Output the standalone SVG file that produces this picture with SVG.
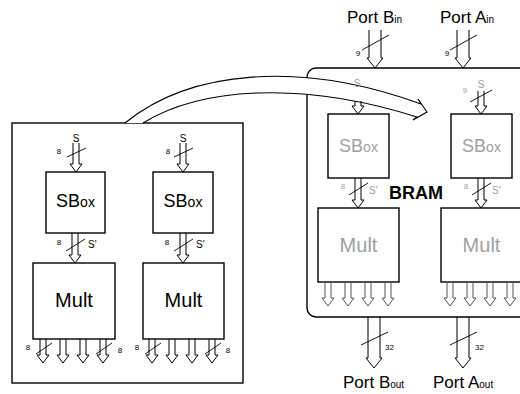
<svg xmlns="http://www.w3.org/2000/svg" width="520" height="394" viewBox="0 0 520 394">
<style>
.box{fill:#fff;stroke:#000;stroke-width:1.4}
.arr{fill:none;stroke:#000;stroke-width:1}
.garr{fill:none;stroke:#555;stroke-width:1}
.sl{fill:none;stroke:#000;stroke-width:0.9}
text{font-family:"Liberation Sans",Arial,sans-serif;fill:#000}
.lab{font-size:20px;text-anchor:middle}
.sb{font-size:18px;text-anchor:middle}
.g{fill:#a0a0a0}
.sm{font-size:10px}
.tiny{font-size:8px}
.port{font-size:17px}
.sub{font-size:10px}
</style>
<rect width="520" height="394" fill="#fff"/>
<g id="left-box">
<rect class="box" x="12" y="123" width="231" height="260"/>
</g>
<g id="bram">
<rect class="box" x="307" y="68" width="230" height="249" rx="9"/>
<text x="389" y="199" style="font-size:18px;font-weight:bold">BRAM</text>
</g>
<g id="sbox-l1"><rect class="box" x="46" y="172" width="59" height="61"/><text class="sb" x="75.5" y="207">SB<tspan font-size="14">ox</tspan></text></g>
<g id="sbox-l2"><rect class="box" x="153" y="172" width="60" height="61"/><text class="sb" x="183" y="207">SB<tspan font-size="14">ox</tspan></text></g>
<g id="mult-l1"><rect class="box" x="33" y="263" width="82" height="76"/><text class="lab" x="74" y="307">Mult</text></g>
<g id="mult-l2"><rect class="box" x="143" y="263" width="81" height="76"/><text class="lab" x="183.5" y="307">Mult</text></g>
<g id="sbox-r1"><rect class="box" x="328" y="114" width="61" height="64"/><text class="sb g" x="358.5" y="152">SB<tspan font-size="14">ox</tspan></text></g>
<g id="sbox-r2"><rect class="box" x="451" y="114" width="61" height="64"/><text class="sb g" x="481.5" y="152">SB<tspan font-size="14">ox</tspan></text></g>
<g id="mult-r1"><rect class="box" x="318" y="208" width="81" height="74"/><text class="lab g" x="358.5" y="252">Mult</text></g>
<g id="mult-r2"><rect class="box" x="441" y="208" width="81" height="74"/><text class="lab g" x="481.5" y="252">Mult</text></g>
<g id="connectors">
<path d="M125,123 C190,70 300,60 421,104 L418,99 L427,112 L413,120 L417,117 C300,80 200,88 143,123" fill="#fff" stroke="#000" stroke-width="1.1"/>
<text class="sm g" x="357" y="87" text-anchor="middle">S</text>
<path class="arr" d="M355,101 V106 H352 L358,114 L364,106 H361 V101"/>
<!-- left inputs -->
<path class="arr" d="M73,143 V164 H70 L76,172 L82,164 H79 V143"/><path class="sl" d="M67,157 L86,148"/>
<text class="sm" x="76" y="142" text-anchor="middle">S</text><text class="tiny" x="59" y="154" text-anchor="middle">8</text>
<path class="arr" d="M180,143 V164 H177 L183,172 L189,164 H186 V143"/><path class="sl" d="M174,157 L193,148"/>
<text class="sm" x="183" y="142" text-anchor="middle">S</text><text class="tiny" x="168" y="154" text-anchor="middle">8</text>
<!-- left sbox to mult -->
<path class="arr" d="M72,233 V255 H69 L75,263 L81,255 H78 V233"/><path class="sl" d="M66,251 L85,239"/>
<text class="tiny" x="59" y="245" text-anchor="middle">8</text><text class="sm" x="88" y="248">S'</text>
<path class="arr" d="M180,233 V255 H177 L183,263 L189,255 H186 V233"/><path class="sl" d="M174,251 L193,239"/>
<text class="tiny" x="167" y="245" text-anchor="middle">8</text><text class="sm" x="196" y="248">S'</text>
<!-- left mult outputs -->
<path class="arr" d="M40,339 V355 H37 L43,363 L49,355 H46 V339"/>
<path class="arr" d="M60,339 V355 H57 L63,363 L69,355 H66 V339"/>
<path class="arr" d="M80,339 V355 H77 L83,363 L89,355 H86 V339"/>
<path class="arr" d="M100,339 V355 H97 L103,363 L109,355 H106 V339"/>
<path class="sl" d="M36,354 L52,343"/><path class="sl" d="M96,354 L112,343"/>
<text class="tiny" x="28" y="350" text-anchor="middle">8</text><text class="tiny" x="120" y="353" text-anchor="middle">8</text>
<path class="arr" d="M149,339 V355 H146 L152,363 L158,355 H155 V339"/>
<path class="arr" d="M169,339 V355 H166 L172,363 L178,355 H175 V339"/>
<path class="arr" d="M189,339 V355 H186 L192,363 L198,355 H195 V339"/>
<path class="arr" d="M209,339 V355 H206 L212,363 L218,355 H215 V339"/>
<path class="sl" d="M145,354 L161,343"/><path class="sl" d="M205,354 L221,343"/>
<text class="tiny" x="137" y="350" text-anchor="middle">8</text><text class="tiny" x="228" y="353" text-anchor="middle">8</text>
<!-- port inputs -->
<path class="arr" d="M369,30 V58 H367 L375,68 L383,58 H381 V30"/><path class="sl" d="M362,50 L389,35"/>
<text class="tiny" x="358" y="56" text-anchor="middle">9</text>
<path class="arr" d="M457,30 V58 H455 L463,68 L471,58 H469 V30"/><path class="sl" d="M450,50 L477,35"/>
<text class="tiny" x="447" y="56" text-anchor="middle">9</text>
<!-- BRAM inner -->
<path class="arr" d="M478,91 V106 H475 L481,114 L487,106 H484 V91"/><path class="sl" d="M470,102 L492,90"/>
<text class="sm g" x="481" y="88" text-anchor="middle">S</text><text class="tiny g" x="465" y="93" text-anchor="middle">9</text>
<path class="arr" d="M355,178 V200 H352 L358,208 L364,200 H361 V178"/><path class="sl" d="M349,195 L368,183"/>
<text class="tiny g" x="343" y="189" text-anchor="middle">8</text><text class="sm g" x="369" y="194">S'</text>
<path class="arr" d="M478,178 V200 H475 L481,208 L487,200 H484 V178"/><path class="sl" d="M472,195 L491,183"/>
<text class="tiny g" x="466" y="189" text-anchor="middle">8</text><text class="sm g" x="492" y="194">S'</text>
<path class="garr" d="M325,282 V298 H322 L328,306 L334,298 H331 V282"/>
<path class="garr" d="M345,282 V298 H342 L348,306 L354,298 H351 V282"/>
<path class="garr" d="M365,282 V298 H362 L368,306 L374,298 H371 V282"/>
<path class="garr" d="M385,282 V298 H382 L388,306 L394,298 H391 V282"/>
<path class="garr" d="M447,282 V298 H444 L450,306 L456,298 H453 V282"/>
<path class="garr" d="M467,282 V298 H464 L470,306 L476,298 H473 V282"/>
<path class="garr" d="M487,282 V298 H484 L490,306 L496,298 H493 V282"/>
<path class="garr" d="M507,282 V298 H504 L510,306 L516,298 H513 V282"/>
<!-- port outputs -->
<path class="arr" d="M368,317 V358 H366 L374,368 L382,358 H380 V317"/><path class="sl" d="M361,345 L388,332"/>
<text class="tiny" x="385" y="350">32</text>
<path class="arr" d="M457,317 V358 H455 L463,368 L471,358 H469 V317"/><path class="sl" d="M450,345 L477,332"/>
<text class="tiny" x="475" y="350">32</text>
</g>
<g id="port-labels">
<text class="port" x="347" y="23">Port B<tspan class="sub">in</tspan></text>
<text class="port" x="440" y="23">Port A<tspan class="sub">in</tspan></text>
<text class="port" x="343" y="388">Port B<tspan class="sub">out</tspan></text>
<text class="port" x="433" y="388">Port A<tspan class="sub">out</tspan></text>
</g>
</svg>
